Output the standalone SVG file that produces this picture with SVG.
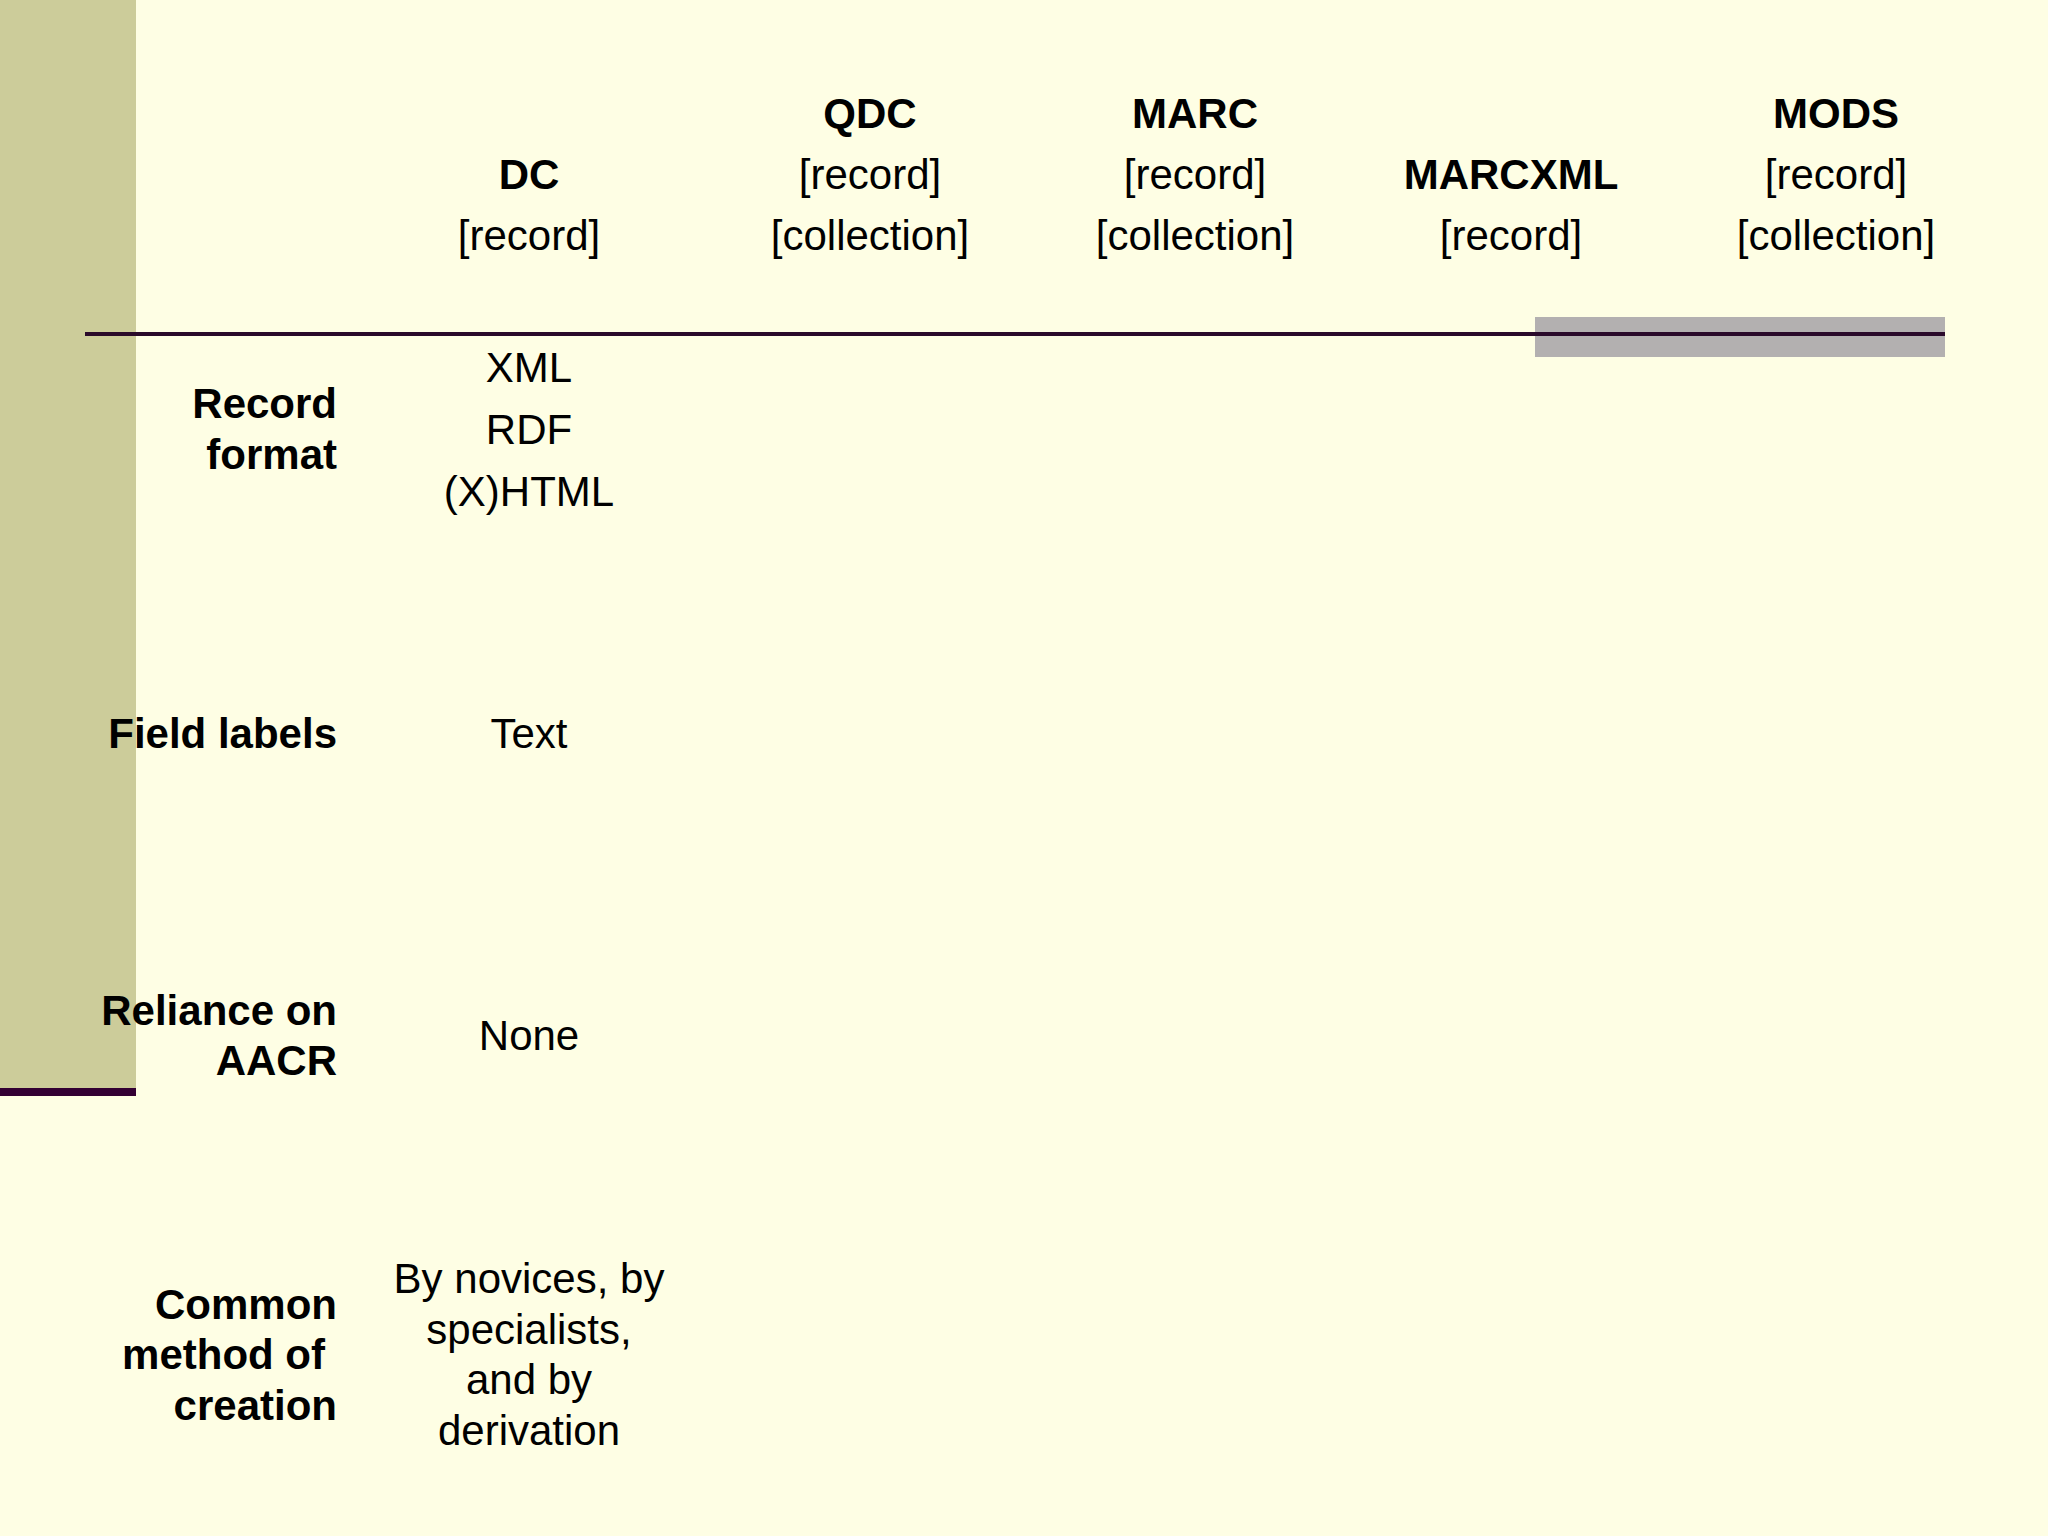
<svg xmlns="http://www.w3.org/2000/svg" width="2048" height="1536" viewBox="0 0 2048 1536">
<style>
text{font-family:"Liberation Sans",Arial,sans-serif;font-size:42px;fill:#000}
.b{font-weight:bold}
.c{text-anchor:middle}
.r{text-anchor:end}
</style>
<rect width="2048" height="1536" fill="#FEFEE4"/>
<rect x="0" y="0" width="136" height="1088" fill="#CCCC9A"/>
<rect x="0" y="1088" width="136" height="8" fill="#330033"/>
<g id="connectors">
<rect x="1535" y="317" width="410" height="40" fill="#B3B0B0"/>
<line x1="85" y1="334" x2="1945" y2="334" stroke="#2A0A2A" stroke-width="4"/>
</g>
<g id="headers">
<text class="b c" x="529" y="189">DC</text><text class="c" x="529" y="250">[record]</text>
<text class="b c" x="870" y="128">QDC</text><text class="c" x="870" y="189">[record]</text><text class="c" x="870" y="250">[collection]</text>
<text class="b c" x="1195" y="128">MARC</text><text class="c" x="1195" y="189">[record]</text><text class="c" x="1195" y="250">[collection]</text>
<text class="b c" x="1511" y="189">MARCXML</text><text class="c" x="1511" y="250">[record]</text>
<text class="b c" x="1836" y="128">MODS</text><text class="c" x="1836" y="189">[record]</text><text class="c" x="1836" y="250">[collection]</text>
</g>
<g id="rowlabels">
<text class="b r" x="337" y="418">Record</text><text class="b r" x="337" y="469">format</text>
<text class="b r" x="337" y="748">Field labels</text>
<text class="b r" x="337" y="1025">Reliance on</text><text class="b r" x="337" y="1075">AACR</text>
<text class="b r" x="337" y="1319">Common</text><text class="b r" x="325" y="1369">method of</text><text class="b r" x="337" y="1420">creation</text>
</g>
<g id="dcvalues">
<text class="c" x="529" y="382">XML</text><text class="c" x="529" y="444">RDF</text><text class="c" x="529" y="506">(X)HTML</text>
<text class="c" x="529" y="748">Text</text>
<text class="c" x="529" y="1050">None</text>
<text class="c" x="529" y="1293">By novices, by</text><text class="c" x="529" y="1344">specialists,</text><text class="c" x="529" y="1394">and by</text><text class="c" x="529" y="1445">derivation</text>
</g>
</svg>
